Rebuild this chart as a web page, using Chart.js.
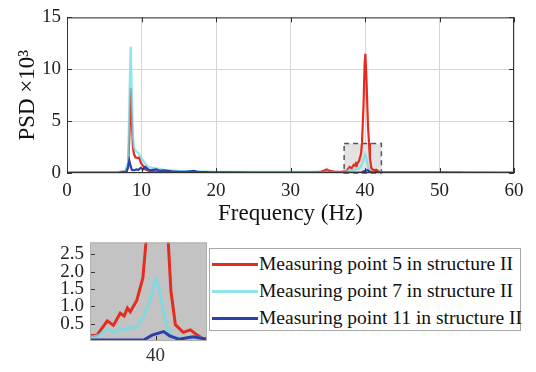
<!DOCTYPE html>
<html>
<head>
<meta charset="utf-8">
<script src="https://cdn.jsdelivr.net/npm/chart.js@4/dist/chart.umd.min.js"></script>
<style>
body{margin:0;width:536px;height:372px;background:#fff;position:relative;overflow:hidden;font-family:"Liberation Serif",serif}
#mainBox{position:absolute;left:0;top:0;width:536px;height:230px}
#insetBox{position:absolute;left:0;top:225px;width:209px;height:147px}
#legend{position:absolute;left:209px;top:248px;width:312px;height:83px;border:1px solid #a8a8a8;box-sizing:border-box;background:#fff}
#legend .row{position:absolute;left:0;height:27px;line-height:27px;white-space:nowrap;font-size:19.5px;color:#111}
#legend .sw{display:inline-block;width:46px;height:3px;vertical-align:middle;margin-left:2px;margin-right:1px;position:relative;top:-1px}
</style>
</head>
<body>
<div id="mainBox"><canvas id="mainChart"></canvas></div>
<div id="insetBox"><canvas id="insetChart"></canvas></div>
<div id="legend"></div>
<script>
// series (Hz, PSD x10^3)
var seriesNames = ["Measuring point 5 in structure II", "Measuring point 7 in structure II", "Measuring point 11 in structure II"];
var lineColors = ["#e62b1f", "rgba(112,220,232,0.78)", "#2b40a8"];
var swatchColors = ["#e62b1f", "#8fe4ec", "#2b40a8"];

var freq5 = [0, 2, 4, 6, 7, 7.8, 8.2, 8.4, 8.55, 8.7, 8.85, 9.0, 9.2, 9.5, 9.7, 9.9, 10.2, 10.5, 11, 12, 14, 17, 20, 25, 30, 33, 34, 34.5, 34.85, 35.3, 36, 36.8, 37.2, 37.5, 37.94, 38.2, 38.49, 38.66, 38.8, 38.92, 39.2, 39.46, 39.6, 39.8, 39.95, 40.05, 40.2, 40.4, 40.54, 40.66, 40.85, 41.18, 41.49, 41.78, 42.0, 42.3, 44, 50, 52, 53, 60];
var psd5  = [0.02, 0.03, 0.03, 0.05, 0.08, 0.15, 0.5, 4, 8.2, 5, 2.5, 1.8, 1.5, 1.45, 1.5, 1.0, 0.7, 0.35, 0.2, 0.12, 0.08, 0.06, 0.05, 0.05, 0.05, 0.06, 0.1, 0.25, 0.35, 0.2, 0.12, 0.12, 0.15, 0.17, 0.58, 0.45, 0.8, 0.72, 0.95, 0.84, 1.17, 1.82, 2.9, 6.5, 10.5, 11.5, 9, 4.5, 2.9, 1.43, 0.47, 0.25, 0.32, 0.17, 0.08, 0.05, 0.04, 0.03, 0.05, 0.03, 0.02];

var freq7 = [0, 5, 7, 7.8, 8.2, 8.4, 8.55, 8.7, 8.85, 9.0, 9.3, 9.6, 10, 10.5, 11, 12, 13, 15, 18, 20, 25, 30, 34, 36, 37.2, 37.6, 37.94, 38.27, 38.49, 38.7, 38.92, 39.2, 39.49, 39.77, 39.99, 40.13, 40.35, 40.49, 40.77, 41.3, 41.78, 42.2, 45, 50, 60];
var psd7  = [0.05, 0.05, 0.1, 0.2, 1, 8, 12.2, 8, 3.5, 2.4, 2.1, 1.9, 1.4, 0.9, 0.55, 0.45, 0.3, 0.2, 0.15, 0.12, 0.1, 0.1, 0.1, 0.08, 0.1, 0.17, 0.34, 0.25, 0.34, 0.33, 0.4, 0.4, 0.69, 1.17, 1.78, 1.6, 0.82, 0.38, 0.12, 0.05, 0.1, 0.05, 0.05, 0.04, 0.03];

var freq11 = [0, 7, 8.0, 8.2, 8.36, 8.5, 8.7, 9.0, 9.3, 9.6, 9.9, 10.2, 10.5, 10.8, 11.2, 11.6, 12, 12.5, 13, 14, 15, 16, 17, 17.5, 19, 22, 25, 30, 35, 37.2, 39.5, 39.85, 40.35, 40.6, 41.0, 41.6, 42.2, 45, 50, 60];
var psd11  = [0.02, 0.05, 0.1, 0.6, 1.2, 0.8, 0.3, 0.25, 0.35, 0.3, 0.5, 0.35, 0.6, 0.4, 0.25, 0.3, 0.35, 0.2, 0.25, 0.15, 0.12, 0.1, 0.2, 0.12, 0.08, 0.06, 0.05, 0.05, 0.04, 0.03, 0.03, 0.17, 0.27, 0.15, 0.05, 0.12, 0.05, 0.04, 0.03, 0.02];

var mainXTicks = [0, 10, 20, 30, 40, 50, 60];
var mainYTicks = [0, 5, 10, 15];
var insetYTicks = [0.5, 1.0, 1.5, 2.0, 2.5];
var insetXTicks = [40];
var zoomRange = [37.2, 42.2, 0, 2.84];

var SERIF = "Liberation Serif";
Chart.defaults.font.family = SERIF;
Chart.defaults.animation = false;

function pts(f, p) { return f.map(function (x, i) { return { x: x, y: p[i] }; }); }

function makeDatasets(w) {
    var all = [pts(freq5, psd5), pts(freq7, psd7), pts(freq11, psd11)];
    return all.map(function (d, i) {
        return {
            label: seriesNames[i], data: d, borderColor: lineColors[i], borderWidth: w,
            pointRadius: 0, fill: false, tension: 0, order: 2 - i, clip: 0
        };
    });
}

// frame + inward tick marks
var boxTicks = {
    id: "boxTicks",
    afterDatasetsDraw: function (chart, args, opts) {
        var c = chart.ctx, a = chart.chartArea, sx = chart.scales.x, sy = chart.scales.y;
        c.save();
        c.strokeStyle = opts.tickColor; c.lineWidth = 1;
        c.beginPath();
        sx.ticks.forEach(function (t) {
            var px = Math.round(sx.getPixelForValue(t.value)) + 0.5;
            c.moveTo(px, a.bottom); c.lineTo(px, a.bottom - 5);
            if (opts.both) { c.moveTo(px, a.top); c.lineTo(px, a.top + 5); }
        });
        sy.ticks.forEach(function (t) {
            var py = Math.round(sy.getPixelForValue(t.value)) + 0.5;
            c.moveTo(a.left, py); c.lineTo(a.left + 5, py);
            if (opts.both) { c.moveTo(a.right, py); c.lineTo(a.right - 5, py); }
        });
        c.stroke();
        c.strokeStyle = opts.color; c.lineWidth = opts.width;
        c.strokeRect(a.left + 0.5, a.top + 0.5, a.right - a.left - 1, a.bottom - a.top - 1);
        c.restore();
    }
};

// grey dashed box marking the zoomed area
var zoomBox = {
    id: "zoomBox",
    beforeDatasetsDraw: function (chart) {
        var c = chart.ctx, sx = chart.scales.x, sy = chart.scales.y;
        var x0 = sx.getPixelForValue(zoomRange[0]), x1 = sx.getPixelForValue(zoomRange[1]);
        var y0 = sy.getPixelForValue(zoomRange[3]), y1 = sy.getPixelForValue(zoomRange[2]);
        c.save();
        c.fillStyle = "#e2e2e2";
        c.fillRect(x0, y0, x1 - x0, y1 - y0);
        c.setLineDash([5, 4]);
        c.strokeStyle = "#555"; c.lineWidth = 1.5;
        c.strokeRect(x0, y0, x1 - x0, y1 - y0);
        c.restore();
    }
};

var greyBg = {
    id: "greyBg",
    beforeDatasetsDraw: function (chart) {
        var a = chart.chartArea;
        chart.ctx.save();
        chart.ctx.fillStyle = "#c3c3c3";
        chart.ctx.fillRect(a.left, a.top, a.right - a.left, a.bottom - a.top);
        chart.ctx.restore();
    }
};

var mainChart = new Chart(document.getElementById("mainChart"), {
    type: "line",
    data: { datasets: makeDatasets(2.2) },
    plugins: [zoomBox, boxTicks],
    options: {
        responsive: true, maintainAspectRatio: false,
        layout: { padding: { left: 10, right: 22, top: 7, bottom: 0 } },
        plugins: { legend: { display: false }, tooltip: { enabled: false },
            boxTicks: { color: "#333", width: 1, tickColor: "#333", both: true } },
        scales: {
            x: {
                type: "linear", min: 0, max: 60,
                afterBuildTicks: function (s) { s.ticks = mainXTicks.map(function (v) { return { value: v }; }); },
                afterFit: function (s) { s.height = 57; },
                grid: { color: "#d6d6d6", drawTicks: false },
                border: { display: false },
                ticks: { font: { size: 19, family: SERIF }, padding: 7, color: "#222", autoSkip: false, maxRotation: 0 },
                title: { display: true, text: "Frequency (Hz)", font: { size: 23, family: SERIF }, color: "#111", padding: { top: 0, bottom: 2 } }
            },
            y: {
                min: 0, max: 15,
                afterBuildTicks: function (s) { s.ticks = mainYTicks.map(function (v) { return { value: v }; }); },
                afterFit: function (s) { s.width = 57; },
                grid: { color: "#d6d6d6", drawTicks: false },
                border: { display: false },
                ticks: { font: { size: 19, family: SERIF }, padding: 6, color: "#222", autoSkip: false },
                title: { display: true, text: "PSD ×10³", font: { size: 23, family: SERIF }, color: "#111", padding: { top: 4, bottom: 0 } }
            }
        }
    }
});

var insetChart = new Chart(document.getElementById("insetChart"), {
    type: "line",
    data: { datasets: makeDatasets(3) },
    plugins: [greyBg, boxTicks],
    options: {
        responsive: true, maintainAspectRatio: false,
        layout: { padding: { left: 0, right: 2, top: 8, bottom: 0 } },
        plugins: { legend: { display: false }, tooltip: { enabled: false },
            boxTicks: { color: "#b0b0b0", width: 1, tickColor: "#333", both: false } },
        scales: {
            x: {
                type: "linear", min: zoomRange[0], max: zoomRange[1],
                afterBuildTicks: function (s) { s.ticks = insetXTicks.map(function (v) { return { value: v }; }); },
                afterFit: function (s) { s.height = 31; },
                grid: { display: false, drawTicks: false },
                border: { display: false },
                ticks: { font: { size: 19, family: SERIF }, padding: 4, color: "#333", autoSkip: false, maxRotation: 0 }
            },
            y: {
                min: zoomRange[2], max: zoomRange[3],
                afterBuildTicks: function (s) { s.ticks = insetYTicks.map(function (v) { return { value: v }; }); },
                afterFit: function (s) { s.width = 90; },
                grid: { display: false, drawTicks: false },
                border: { display: false },
                ticks: { font: { size: 19, family: SERIF }, padding: 6, color: "#222", autoSkip: false,
                    callback: function (v) { return Number(v).toFixed(1); } }
            }
        }
    }
});

// boxed legend
var lg = document.getElementById("legend");
seriesNames.forEach(function (t, i) {
    var r = document.createElement("div");
    r.className = "row";
    r.style.top = (1 + i * 27) + "px";
    var sw = document.createElement("span");
    sw.className = "sw";
    sw.style.background = swatchColors[i];
    r.appendChild(sw);
    r.appendChild(document.createTextNode(t));
    lg.appendChild(r);
});

requestAnimationFrame(function () { mainChart.render(); insetChart.render(); });
</script>
</body>
</html>
